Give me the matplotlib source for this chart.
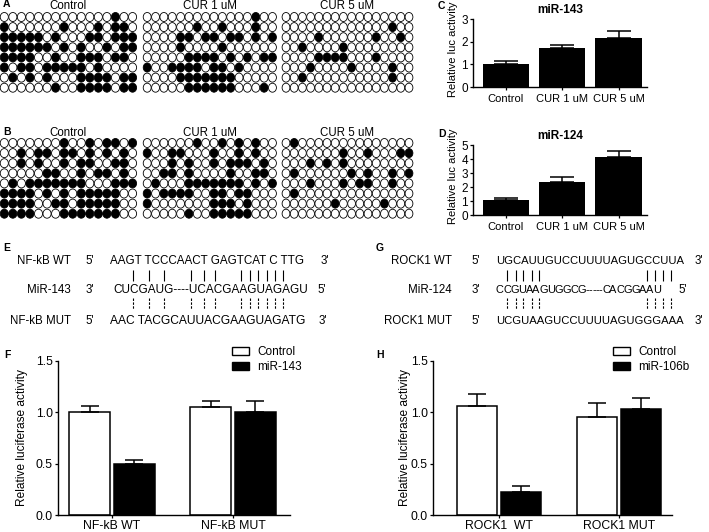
import matplotlib
matplotlib.use("Agg")
import matplotlib.pyplot as plt
from matplotlib.patches import Ellipse, Patch
from matplotlib.font_manager import FontProperties
import numpy as np

plt.rcParams['font.family'] = ['Liberation Sans', 'DejaVu Sans']

W, H = 709, 532

# ---- bisulfite sequencing grids (1 = methylated CpG) ----
grid_titles = ["Control", "CUR 1 uM", "CUR 5 uM"]

a_control = ["0000000000000100", "1000000100010110", "1111101000110111",
             "1111110101001011", "1111001001110110", "1011011111010000",
             "0101010001111011", "0000001001111011"]
a_cur1 = ["0000000000000100", "0000001001000100", "0000110110110101",
          "0000100001000000", "0000011110101011", "1001111011010000",
          "0000111111100000", "0000011111100010"]
a_cur5 = ["0000000000000000", "0000000000000100", "0000100000010010",
          "0010000100000000", "0000111100010000", "0001000010000100",
          "0010000000000100", "0000000000000000"]

b_control = ["0000000100101101", "0010110110101010", "0010100101100110",
             "0000011001011010", "0101111111000111", "1111010101111100",
             "1111001101111100", "1111000111111100"]
b_cur1 = ["0000001001010100", "1001100010010100", "0001010010111010",
          "0011010000100110", "0100011111110101", "1011110011011000",
          "1000000011101000", "0000010011111000"]
b_cur5 = ["0100000000000000", "0000000100100011", "0001010100000000",
          "0100000010100101", "0001000101100100", "0100000000000000",
          "0000001000001000", "0000000000000000"]

# ---- panels C / D ----
cd_groups = ["Control", "CUR 1 uM", "CUR 5 uM"]
c_mean = [1.03, 1.70, 2.17]
c_err = [0.13, 0.17, 0.30]
d_mean = [1.07, 2.38, 4.17]
d_err = [0.18, 0.30, 0.43]

# ---- panels F / H ----
f_groups = ["NF-kB WT", "NF-kB MUT"]
f_control = [1.00, 1.05]
f_control_err = [0.06, 0.06]
f_mir = [0.50, 1.00]
f_mir_err = [0.03, 0.11]

h_groups = ["ROCK1  WT", "ROCK1 MUT"]
h_control = [1.06, 0.95]
h_control_err = [0.115, 0.14]
h_mir = [0.22, 1.03]
h_mir_err = [0.065, 0.105]

# ---- sequence alignments ----
e_names = ["NF-kB WT", "MiR-143", "NF-kB MUT"]
e_ends = [("5'", "3'"), ("3'", "5'"), ("5'", "3'")]
e_seqs = ["AAGT TCCCAACT GAGTCAT C TTG", "CUCGAUG----UCACGAAGUAGAGU",
          "AAC TACGCAUUACGAAGUAGATG"]
g_names = ["ROCK1 WT", "MiR-124", "ROCK1 MUT"]
g_ends = [("5'", "3'"), ("3'", "5'"), ("5'", "3'")]
g_seqs = ["UGCAUUGUCCUUUUAGUGCCUUA", "CCGUAAGUGGCG-----CACGGAAU",
          "UCGUAAGUCCUUUUAGUGGGAAA"]

# base-pair tick positions (pixels)
e_pair_x = [133, 149, 164, 191, 204, 215, 241, 250, 258, 267, 275, 283]
g_pair_x = [507, 516, 523, 532, 539, 647, 655, 663, 671]

SEQ_FS = 8.3


def px_axes(fig, left, top, right, bottom):
    return fig.add_axes([left / W, 1 - bottom / H, (right - left) / W, (bottom - top) / H])


def draw_grid(ax, rows, x0, dx, y0, dy):
    for i, row in enumerate(rows):
        for j, ch in enumerate(row):
            ax.add_patch(Ellipse((x0 + j * dx, y0 + i * dy), dx * 0.95, 9.0,
                                 facecolor='black' if ch == '1' else 'white',
                                 edgecolor='black', lw=0.6))


def prism_style(ax, ymax, yticks, fs):
    for s in ['top', 'right']:
        ax.spines[s].set_visible(False)
    ax.spines['left'].set_bounds(0, ymax)
    ax.spines['left'].set_linewidth(1.0)
    ax.spines['bottom'].set_linewidth(1.0)
    ax.set_ylim(0, ymax)
    ax.set_yticks(yticks)
    ax.tick_params(direction='out', length=2.5, width=0.9, labelsize=fs, pad=1.2)
    ax.patch.set_alpha(0)


def bar_cd(ax, means, errs, ymax, title):
    x = np.arange(len(cd_groups))
    ax.bar(x, means, width=0.82, color='black', zorder=2)
    ax.errorbar(x, means, yerr=[np.zeros(len(x)), errs], fmt='none', ecolor='black',
                elinewidth=1.1, capsize=8.5, capthick=1.1, zorder=3)
    ax.set_xlim(-0.586, 2.505)
    ax.set_xticks(x)
    ax.set_xticklabels(cd_groups)
    prism_style(ax, ymax, range(ymax + 1), 8.0)
    ax.tick_params(axis='y', labelsize=8.5)
    ax.tick_params(axis='x', pad=2.5)
    ax.set_title(title, fontsize=8.5, fontweight='bold', pad=4)
    ax.set_ylabel("Relative luc activity", fontsize=8)
    ax.yaxis.set_label_coords(-0.115, 0.55)
    ax.yaxis.label.set_va('center')


def bar_fh(ax, fig, groups, ctrl, ctrl_err, mir, mir_err, mir_label, xlim, leg_xy):
    x = np.arange(len(groups))
    w, off = 0.335, 0.185
    ax.bar(x - off, ctrl, width=w, facecolor='white', edgecolor='black', lw=1.1, zorder=2)
    ax.bar(x + off, mir, width=w, facecolor='black', edgecolor='black', lw=1.1, zorder=2)
    ax.errorbar(x - off, ctrl, yerr=[np.zeros(len(x)), ctrl_err], fmt='none', ecolor='black',
                elinewidth=1.1, capsize=6.5, capthick=1.1, zorder=3)
    ax.errorbar(x + off, mir, yerr=[np.zeros(len(x)), mir_err], fmt='none', ecolor='black',
                elinewidth=1.1, capsize=6.5, capthick=1.1, zorder=3)
    ax.set_xlim(*xlim)
    ax.set_xticks(x)
    ax.set_xticklabels(groups)
    prism_style(ax, 1.5, [0.0, 0.5, 1.0, 1.5], 8.8)
    ax.tick_params(axis='x', pad=0.8)
    ax.set_yticklabels(["0.0", "0.5", "1.0", "1.5"])
    handles = [Patch(facecolor='white', edgecolor='black', lw=1.0),
               Patch(facecolor='black', edgecolor='black', lw=1.0)]
    ax.legend(handles, ["Control", mir_label], loc='upper left',
              bbox_to_anchor=(leg_xy[0] / W, 1 - leg_xy[1] / H), bbox_transform=fig.transFigure,
              frameon=False, borderpad=0, borderaxespad=0, handlelength=1.45,
              handleheight=0.75, handletextpad=0.7, labelspacing=0.25, fontsize=8.5)


def seq_text(ax, renderer, x, y, s, right, fs):
    # match the reference width: small differences via font size, big squeeze via letter spacing
    prop = FontProperties(family=['Liberation Sans', 'DejaVu Sans'], size=fs)
    natural = renderer.get_text_width_height_descent(s, prop, ismath=False)[0]
    scale = (right - x) / natural
    if scale > 0.92:
        ax.text(x, y, s, ha='left', va='baseline', fontsize=fs * scale)
        return
    fs2 = fs * 0.96
    prop = FontProperties(family=['Liberation Sans', 'DejaVu Sans'], size=fs2)
    adv = [renderer.get_text_width_height_descent(s[:i], prop, ismath=False)[0] if i else 0.0
           for i in range(len(s) + 1)]
    k = (right - x) / adv[-1]
    for i, ch in enumerate(s):
        ax.text(x + adv[i] * k, y, ch, ha='left', va='baseline', fontsize=fs2)


def draw_alignment(ax, renderer, names, ends, seqs, name_x, p1_x, seq_x, seq_r, p2_x, pair_x):
    base = [264.5, 293, 324]
    for k in range(3):
        ax.text(name_x, base[k], names[k], ha='right', va='baseline', fontsize=8.3)
        ax.text(p1_x, base[k], ends[k][0], ha='center', va='baseline', fontsize=8.3)
        seq_text(ax, renderer, seq_x[k], base[k], seqs[k], seq_r[k], SEQ_FS)
        ax.text(p2_x[k], base[k], ends[k][1], ha='center', va='baseline', fontsize=8.3)
    ax.vlines(pair_x, 270, 281, colors='black', lw=0.8)
    ax.vlines(pair_x, 298, 309, colors='black', lw=0.8, linestyles=(0, (2.2, 1.3)))


fig = plt.figure(figsize=(W / 100, H / 100), dpi=100)
renderer = fig.canvas.get_renderer()

ov = fig.add_axes([0, 0, 1, 1])
ov.set_xlim(0, W)
ov.set_ylim(H, 0)
ov.axis('off')

# panel letters
for lab, (lx, ly) in {"A": (3, 4), "B": (3, 132), "C": (438, 6), "D": (438, 134),
                      "E": (3, 248), "F": (4, 355), "G": (376, 248), "H": (376, 355)}.items():
    ov.text(lx, ly, lab, fontsize=7.5, fontweight='bold', ha='left', va='center')

# A / B grids
grid_x = [(4.3, 8.55), (147.2, 8.35), (286.0, 8.2)]
for rows_set, y0, ty in [((a_control, a_cur1, a_cur5), 17.0, 6.0),
                          ((b_control, b_cur1, b_cur5), 143.0, 132.5)]:
    for (x0, dx), rows, title in zip(grid_x, rows_set, grid_titles):
        draw_grid(ov, rows, x0, dx, y0, 10.1)
        ov.text(x0 + 7.5 * dx, ty, title, ha='center', va='center', fontsize=8.3)

# E / G alignments
draw_alignment(ov, renderer, e_names, e_ends, e_seqs, 71, 90, [110, 113, 110],
               [303, 306, 305], [325, 322, 323], e_pair_x)
draw_alignment(ov, renderer, g_names, g_ends, g_seqs, 452, 476, [496, 496, 496],
               [684, 660, 682], [699, 683, 699], g_pair_x)

# C / D
ax_c = px_axes(fig, 473, 19, 647, 87)
bar_cd(ax_c, c_mean, c_err, 3, "miR-143")
ax_d = px_axes(fig, 473, 145, 647, 215)
bar_cd(ax_d, d_mean, d_err, 5, "miR-124")

# F / H
ax_f = px_axes(fig, 58, 360.7, 290, 515)
bar_fh(ax_f, fig, f_groups, f_control, f_control_err, f_mir, f_mir_err, "miR-143",
       (-0.446, 1.47), (232, 346))
ax_f.set_ylabel("Relative luciferase activity", fontsize=8.6)
ax_f.yaxis.set_label_coords(-0.155, 0.5)
ax_f.yaxis.label.set_va('center')

ax_h = px_axes(fig, 433, 360.7, 672, 515)
bar_fh(ax_h, fig, h_groups, h_control, h_control_err, h_mir, h_mir_err, "miR-106b",
       (-0.55, 1.44), (613, 346))
ax_h.set_ylabel("Relative luciferase activity", fontsize=8.6)
ax_h.yaxis.set_label_coords(-0.118, 0.5)
ax_h.yaxis.label.set_va('center')

fig.savefig("out.png", dpi=100)
